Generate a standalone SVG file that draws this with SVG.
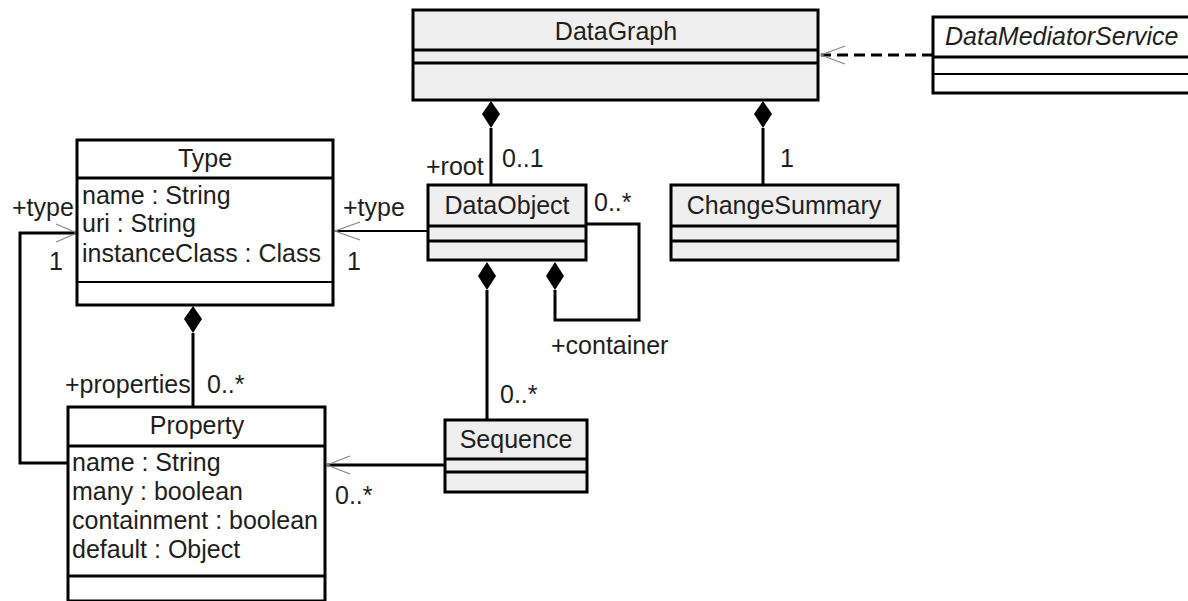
<svg xmlns="http://www.w3.org/2000/svg" width="1188" height="601" viewBox="0 0 1188 601">
<style>
  text { font-family: "Liberation Sans", Arial, sans-serif; font-size: 25px; fill: #1e1e1e; }
  .c { text-anchor: middle; }
  .box { stroke: #000; stroke-width: 3; }
  .g { fill: #efefef; }
  .w { fill: #ffffff; }
  .div { stroke: #000; stroke-width: 3; }
  .div2 { stroke: #000; stroke-width: 2; }
  .ln { fill: none; stroke: #000; stroke-width: 3; }
  .arr { fill: none; stroke: #888; stroke-width: 1.3; }
  .dm { fill: #000; }
</style>
<rect width="1188" height="601" fill="#fff"/>

<g id="connectors">
  <!-- DataMediatorService -> DataGraph dependency -->
  <line x1="933" y1="55" x2="821" y2="55" stroke="#000" stroke-width="3" stroke-dasharray="11,6"/>
  <polyline class="arr" points="845,46 821,55 845,64"/>
  <!-- DataGraph root composition -->
  <line class="ln" x1="491" y1="128" x2="491" y2="185"/>
  <polygon class="dm" points="491,101 500,114 491,128 482,114"/>
  <!-- DataGraph ChangeSummary composition -->
  <line class="ln" x1="763" y1="128" x2="763" y2="185"/>
  <polygon class="dm" points="763,101 772,114 763,128 754,114"/>
  <!-- DataObject -> Type -->
  <line x1="428" y1="231" x2="335" y2="231" stroke="#000" stroke-width="2"/>
  <polyline class="arr" points="360,222 335,231 360,240"/>
  <!-- DataObject self containment -->
  <polyline class="ln" points="586,224 639,224 639,320 555,320 555,290"/>
  <polygon class="dm" points="555,262 564,276 555,290 546,276"/>
  <!-- DataObject - Sequence composition -->
  <line class="ln" x1="487" y1="290" x2="487" y2="420"/>
  <polygon class="dm" points="487,262 496,276 487,290 478,276"/>
  <!-- Sequence -> Property -->
  <line x1="445" y1="465" x2="327" y2="465" stroke="#000" stroke-width="3"/>
  <polyline class="arr" points="350,456 327,465 350,474"/>
  <!-- Type - Property composition -->
  <line class="ln" x1="193" y1="333" x2="193" y2="407"/>
  <polygon class="dm" points="193,306 202,319 193,333 184,319"/>
  <!-- Property -> Type (+type) -->
  <polyline class="ln" points="68,463 20,463 20,233 77,233"/>
  <polyline class="arr" points="56,224 77,233 56,242"/>
  <!-- labels -->
  <text x="426" y="175">+root</text>
  <text x="502" y="167">0..1</text>
  <text x="780" y="167">1</text>
  <text x="343" y="216">+type</text>
  <text x="347" y="270">1</text>
  <text x="12" y="216">+type</text>
  <text x="49" y="270">1</text>
  <text x="594" y="211">0..*</text>
  <text x="551" y="354">+container</text>
  <text x="500" y="403">0..*</text>
  <text x="335" y="504">0..*</text>
  <text x="65" y="393">+properties</text>
  <text x="207" y="393">0..*</text>
</g>

<g id="DataGraph">
  <rect class="box g" x="413" y="10" width="405" height="90"/>
  <line class="div" x1="413" y1="50" x2="818" y2="50"/>
  <line class="div" x1="413" y1="63" x2="818" y2="63"/>
  <text class="c" x="616" y="40">DataGraph</text>
</g>

<g id="DataMediatorService">
  <rect class="box w" x="933" y="17" width="262" height="76"/>
  <line class="div" x1="933" y1="57" x2="1195" y2="57"/>
  <line class="div2" x1="933" y1="74" x2="1195" y2="74"/>
  <text x="945" y="45" font-style="italic">DataMediatorService</text>
</g>

<g id="Type">
  <rect class="box w" x="77" y="140" width="256" height="165"/>
  <line class="div" x1="77" y1="178" x2="333" y2="178"/>
  <line class="div2" x1="77" y1="282" x2="333" y2="282"/>
  <text class="c" x="205" y="167">Type</text>
  <text x="82" y="204">name : String</text>
  <text x="82" y="232">uri : String</text>
  <text x="82" y="262">instanceClass : Class</text>
</g>

<g id="DataObject">
  <rect class="box g" x="428" y="185" width="158" height="75"/>
  <line class="div" x1="428" y1="226" x2="586" y2="226"/>
  <line class="div" x1="428" y1="241" x2="586" y2="241"/>
  <text class="c" x="507" y="214">DataObject</text>
</g>

<g id="ChangeSummary">
  <rect class="box g" x="671" y="185" width="227" height="75"/>
  <line class="div" x1="671" y1="226" x2="898" y2="226"/>
  <line class="div" x1="671" y1="241" x2="898" y2="241"/>
  <text class="c" x="784" y="214">ChangeSummary</text>
</g>

<g id="Sequence">
  <rect class="box g" x="445" y="420" width="142" height="72"/>
  <line class="div" x1="445" y1="459" x2="587" y2="459"/>
  <line class="div" x1="445" y1="472" x2="587" y2="472"/>
  <text class="c" x="516" y="448">Sequence</text>
</g>

<g id="Property">
  <rect class="box w" x="68" y="407" width="257" height="194"/>
  <line class="div" x1="68" y1="446" x2="325" y2="446"/>
  <line class="div" x1="68" y1="576" x2="325" y2="576"/>
  <text class="c" x="197" y="434">Property</text>
  <text x="72" y="471">name : String</text>
  <text x="72" y="500">many : boolean</text>
  <text x="72" y="529">containment : boolean</text>
  <text x="72" y="558">default : Object</text>
</g>
</svg>
